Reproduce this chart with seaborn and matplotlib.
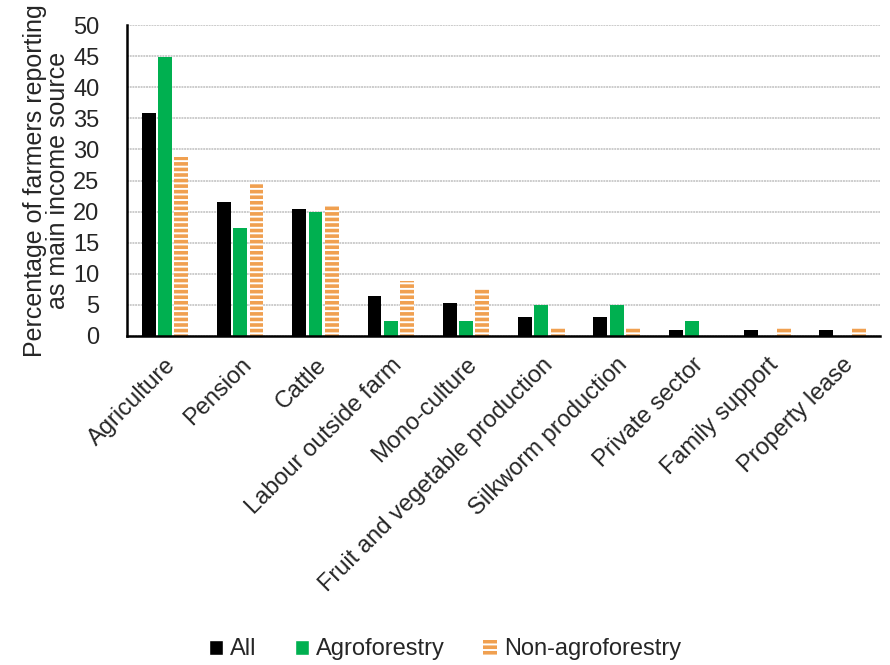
import pandas as pd
import numpy as np
import matplotlib.pyplot as plt
import seaborn as sns
from matplotlib.patches import Patch

# data
categories = ['Agriculture', 'Pension', 'Cattle', 'Labour outside farm', 'Mono-culture',
              'Fruit and vegetable production', 'Silkworm production', 'Private sector',
              'Family support', 'Property lease']
all_farmers = [35.8, 21.5, 20.4, 6.4, 5.3, 3.1, 3.1, 1.0, 1.0, 1.0]
agroforestry = [44.9, 17.3, 20.0, 2.4, 2.4, 4.9, 4.9, 2.4, 0.0, 0.0]
non_agroforestry = [28.8, 24.6, 21.1, 8.9, 7.6, 1.2, 1.2, 0.0, 1.2, 1.2]
groups = ['All', 'Agroforestry', 'Non-agroforestry']

df = pd.DataFrame({
    'Source': categories * 3,
    'Group': np.repeat(groups, len(categories)),
    'Value': all_farmers + agroforestry + non_agroforestry,
})

sns.set_style('white')
plt.rcParams['font.family'] = ['Liberation Sans', 'DejaVu Sans']
plt.rcParams['hatch.linewidth'] = 2.6
plt.rcParams['hatch.color'] = '#f0a050'

orange = '#f0a050'
palette = {'All': 'black', 'Agroforestry': '#00b050', 'Non-agroforestry': 'white'}
fs = 17

fig = plt.figure(figsize=(8.9, 6.65), dpi=100)
ax = fig.add_axes([0.143, 0.495, 0.846, 0.467])

sns.barplot(data=df, x='Source', y='Value', hue='Group', hue_order=groups,
            palette=palette, width=0.65, gap=0.15, ax=ax, legend=False,
            saturation=1, linewidth=0)

# hatch the non-agroforestry bars
n = len(categories)
for i, bar in enumerate(ax.patches[:3 * n]):
    if i >= 2 * n:
        bar.set_facecolor('white')
        bar.set_hatch('---')
        bar.set_edgecolor(orange)
        bar.set_linewidth(0)

ax.set_ylim(0, 50)
ax.set_yticks(range(0, 51, 5))
ax.yaxis.grid(True, color='#cccccc', linewidth=1.4, linestyle=(0, (1, 0.4)))
ax.set_axisbelow(True)
ax.set_xlim(-0.5, n - 0.5)

for s in ['top', 'right']:
    ax.spines[s].set_visible(False)
for s in ['left', 'bottom']:
    ax.spines[s].set_color('black')
    ax.spines[s].set_linewidth(1.8)

ax.tick_params(axis='y', labelsize=fs, length=0, pad=20)
ax.tick_params(axis='x', labelsize=fs, length=0, pad=13)
plt.setp(ax.get_xticklabels(), rotation=45, ha='right', rotation_mode='anchor')
ax.set_xlabel('')
ax.set_ylabel('Percentage of farmers reporting\nas main income source', fontsize=18,
              linespacing=0.95, labelpad=2)

handles = [Patch(facecolor='black'),
           Patch(facecolor='#00b050'),
           Patch(facecolor='white', hatch='---', edgecolor=orange, linewidth=0)]
fig.legend(handles, groups, loc='lower center', bbox_to_anchor=(0.5, -0.025), ncol=3,
           frameon=False, fontsize=fs, handlelength=0.6, handleheight=0.6,
           handletextpad=0.3, columnspacing=1.6)

fig.savefig('out.png', dpi=100)
